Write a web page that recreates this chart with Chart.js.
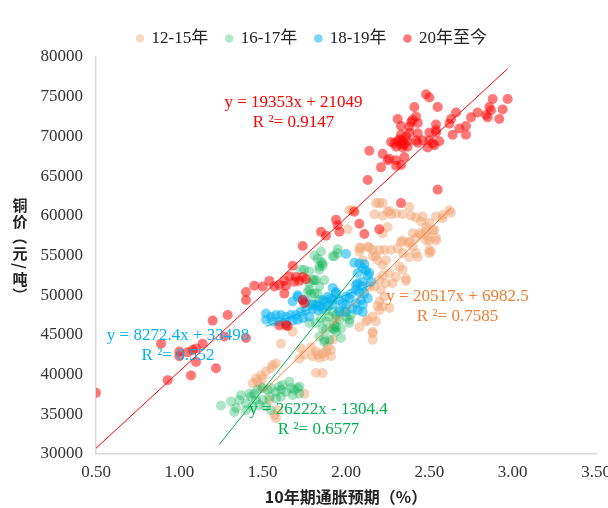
<!DOCTYPE html>
<html>
<head>
<meta charset="utf-8">
<script src="https://cdn.jsdelivr.net/npm/chart.js@4.4.0/dist/chart.umd.min.js"></script>
<style>
    html, body { margin: 0; padding: 0; background: #fff; }
</style>
</head>
<body>
<canvas id="chart" width="608" height="508"></canvas>
<script>
// ---- data ----
const seriesNames = ['12-15年', '16-17年', '18-19年', '20年至今'];

const x1215 = [2.20,2.22,2.17,2.22,2.25,2.27,2.30,2.34,2.38,2.39,2.42,2.45,2.48,2.50,2.54,2.58,2.62,2.53,2.49,2.54,
    2.48,2.45,2.42,2.40,2.38,2.34,2.51,2.50,2.43,2.38,2.34,2.31,2.27,2.23,2.20,2.16,2.13,2.09,2.08,2.10,
    2.16,2.19,2.24,2.22,2.32,2.34,2.36,2.30,2.26,2.22,2.20,2.24,2.28,2.21,2.23,2.20,2.19,2.22,2.16,2.12,
    2.14,2.17,2.16,2.16,1.91,2.26,2.36,2.20,2.08,2.18,2.02,2.26,2.46,2.58,2.63,2.25,2.01,2.22,2.44,2.48,
    2.52,2.54,2.50,2.33,2.37,2.08,2.14,2.18,2.40,2.42,2.50,2.04,1.61,1.73,1.75,1.79,1.82,1.83,1.84,1.86,
    1.89,1.88,1.87,1.91,1.82,1.86,1.58,1.55,1.52,1.49,1.46,1.44,1.47,1.50,1.75,1.58,1.54,1.49,1.56,1.72,
    1.80,1.92,1.94,1.57,1.59,2.13,2.18,2.16,1.68];
const y1215 = [61600,61600,60200,60000,60500,60200,60300,60200,61100,60000,59800,59300,58600,59100,59900,60100,60700,58200,57400,56900,
    56900,57600,57200,57800,56700,56900,55500,55300,54800,54800,55300,55900,55700,55700,55700,55700,56100,55900,55500,54400,
    54900,54400,54400,53800,53600,53200,52100,52300,52800,52500,51900,51500,51500,50700,49800,49200,48600,48600,47300,46700,
    51100,51100,44400,45200,42300,48400,51800,48100,46000,61600,60700,60600,59900,59700,60400,58600,58300,57800,57800,58000,
    58200,57200,56900,56700,56600,56000,56000,54900,56100,55300,55700,60700,43900,43300,42500,43400,42900,42500,42100,42700,
    43500,42900,42300,43100,40200,40200,41400,40800,40400,39900,39500,38900,39100,39500,37600,34500,36800,38500,41200,42000,
    42300,44400,46900,34900,35500,46900,46700,45400,45400];

const x1617 = [1.95,1.93,1.85,1.83,1.85,1.84,1.86,1.80,1.82,1.87,1.84,1.78,1.81,1.75,1.78,1.73,1.92,1.95,1.84,1.86,
    1.78,1.79,1.83,1.80,1.84,1.88,1.92,1.96,1.94,1.90,1.96,2.00,1.85,1.88,1.82,1.86,1.92,1.97,1.94,1.81,
    1.81,1.77,1.78,1.93,1.84,1.87,1.34,1.36,1.31,1.25,1.40,1.42,1.45,1.47,1.50,1.53,1.55,1.58,1.61,1.62,
    1.66,1.67,1.64,1.69,1.71,1.72,1.68,1.61,1.58,1.54,1.50,1.48,1.44,1.46,1.33,1.40,1.52,1.55,1.37,1.43,
    1.88,1.87,2.02,1.93,1.97,1.60,1.72,1.94,2.02,2.03,1.99,1.90];
const y1617 = [55800,54900,55500,54600,54200,53200,54000,51900,51900,51900,51100,50700,50200,53200,53000,53200,54900,55300,53600,53700,
    51500,50200,50200,49000,49400,48100,47900,48100,47500,47300,46900,47300,47100,46700,46500,45800,45800,45800,45400,55000,
    51900,50400,46500,45700,44800,44400,35800,36800,36600,36100,36400,37600,37600,38100,38300,38100,38300,37800,38100,38700,
    39100,38300,37800,38100,38300,37600,37400,37200,37000,37200,36800,36200,36000,36800,35300,35500,36000,35500,37400,37200,
    45600,44100,46500,46200,44600,38500,38500,46000,46900,47500,47900,44400];

const x1819 = [2.00,2.05,2.08,2.11,2.10,2.12,2.14,2.07,1.68,1.71,1.82,1.86,1.89,1.92,1.96,2.00,2.03,2.06,2.07,2.10,
    2.11,2.09,2.06,2.07,2.04,2.00,1.52,1.52,1.55,1.58,1.61,1.64,1.67,1.70,1.73,1.76,1.80,1.83,1.86,1.89,
    1.92,1.56,1.60,1.64,1.68,1.71,1.74,1.78,1.71,1.76,1.80,1.84,1.87,1.91,1.94,2.13,2.15,2.10,2.06,2.08,
    2.13,2.10,2.02,1.98,1.94,1.96,2.00,2.10,1.92,1.74];
const y1819 = [55200,54100,54000,53900,53400,53100,52800,52800,49200,49800,48800,49400,49800,49400,49400,49800,50200,50700,51500,51100,
    50200,49400,49000,48100,48300,48800,47700,46900,47300,47500,47500,47300,47500,47500,47900,48100,48300,48100,48300,48600,
    48800,46700,46700,46500,46800,46900,47100,47300,50000,49200,48800,48600,49200,49600,50400,52500,51700,51700,51300,50400,
    49600,48800,49600,49000,50200,47900,47900,47900,50900,49400];

const x20 = [2.48,2.50,2.41,2.55,2.88,2.97,2.86,2.87,2.94,2.84,2.85,2.92,2.79,2.75,2.66,2.63,2.62,2.72,2.68,2.72,
    2.64,2.31,2.42,2.39,2.40,2.43,2.33,2.38,2.54,2.54,2.54,2.50,2.43,2.38,2.36,2.33,2.32,2.34,2.37,2.31,
    2.29,2.27,2.33,2.35,2.42,2.43,2.46,2.50,2.52,2.56,2.49,2.53,2.34,2.30,2.37,2.14,2.22,2.25,2.26,2.30,
    2.35,2.21,2.30,2.33,2.13,2.55,2.33,2.05,1.94,1.96,1.95,2.08,2.11,2.20,1.85,1.88,1.74,1.68,1.45,1.50,
    1.54,1.57,1.60,1.63,1.64,1.66,1.69,1.70,1.72,1.74,1.76,1.63,1.74,1.75,1.60,1.64,0.50,0.93,1.07,1.22,
    1.10,1.00,1.05,1.08,1.14,0.89,1.40,1.29,1.20,1.40,1.40,1.27,1.10,1.00,1.65];
const y20 = [75300,74900,73700,73700,74700,74700,73700,73300,73400,72700,72400,72200,73000,72400,73000,72200,71600,71300,71000,70200,
    70200,72200,72500,71800,72100,71700,71300,71200,71500,70800,70500,70500,70400,70500,70000,70200,69600,69500,69400,69400,
    69100,69300,69000,69000,69500,69200,69500,69500,69100,69400,68600,68900,68600,68700,68700,68200,67800,67000,67200,67000,
    67400,66100,66300,66400,64500,63300,61600,60500,59500,58000,58800,59000,57700,58300,58000,57500,56200,53700,51200,51100,
    51800,51100,51300,51800,51200,52400,51700,52300,51800,52300,52000,50200,49400,49000,46200,46200,37700,39300,39900,40800,
    41600,42300,42800,43100,43900,43900,44600,47500,46800,49400,50400,44800,43300,42900,46100];

// trendlines: slope, intercept, x range
const trendSlope = [20517, 26222, 8272.4, 19353];
const trendIntercept = [6982.5, -1304.4, 33498, 21049];
const trendFrom = [1.50, 1.24, 1.52, 0.50];
const trendTo = [2.63, 2.07, 2.15, 2.97];
const trendText = [
    ['y = 20517x + 6982.5', 'R ²= 0.7585'],
    ['y = 26222x - 1304.4', 'R ²= 0.6577'],
    ['y = 8272.4x + 33498', 'R ²= 0.552'],
    ['y = 19353x + 21049', 'R ²= 0.9147']
];
// where each equation label is centred, in axis units
const labelX = [2.669, 1.835, 0.992, 1.685];
const labelY = [49773, 35541, 44861, 74205];

const xTicks = [0.5, 3.5, 0.5];      // min, max, step
const yTicks = [30000, 80000, 5000];

// ---- styles ----
const pointColors = ['rgba(241,166,116,0.5)', 'rgba(0,176,80,0.33)', 'rgba(0,176,240,0.55)', 'rgba(255,0,0,0.53)'];
const legendColors = ['rgba(244,177,131,0.5)', 'rgba(0,176,80,0.3)', 'rgba(0,176,240,0.53)', 'rgba(255,0,0,0.53)'];
const lineColors = ['#ED7D31', '#00B050', '#00B0F0', '#FF0000'];
const serif = "'Liberation Serif', 'Noto Sans CJK SC', serif";
const cjk = "'Noto Sans CJK SC', sans-serif";

function pts(xs, ys) {
    return xs.map((x, i) => ({ x: x, y: ys[i] }));
}

const allX = [x1215, x1617, x1819, x20];
const allY = [y1215, y1617, y1819, y20];

const datasets = [];
seriesNames.forEach((name, i) => {
    datasets.push({
        label: name,
        data: pts(allX[i], allY[i]),
        backgroundColor: pointColors[i],
        borderWidth: 0,
        pointRadius: 5,
        pointHoverRadius: 5,
        order: 4 - i + 1
    });
});
trendSlope.forEach((s, i) => {
    const b = trendIntercept[i];
    datasets.push({
        label: 'trend' + i,
        data: [{ x: trendFrom[i], y: s * trendFrom[i] + b }, { x: trendTo[i], y: s * trendTo[i] + b }],
        showLine: true,
        borderColor: lineColors[i],
        borderWidth: 1,
        pointRadius: 0,
        fill: false,
        order: 0
    });
});

// equation labels + stacked y title
const extras = {
    id: 'extras',
    afterDatasetsDraw(chart) {
        const { ctx, scales } = chart;
        ctx.save();
        ctx.font = '17px ' + serif;
        ctx.textAlign = 'center';
        ctx.textBaseline = 'middle';
        trendText.forEach((lines, i) => {
            const px = scales.x.getPixelForValue(labelX[i]);
            const py = scales.y.getPixelForValue(labelY[i]);
            ctx.fillStyle = lineColors[i];
            lines.forEach((t, k) => ctx.fillText(t, px, py + k * 19.5));
        });
        ctx.restore();
    },
    afterDraw(chart) {
        const ctx = chart.ctx;
        ctx.save();
        ctx.font = 'bold 15px ' + cjk;
        ctx.fillStyle = '#222';
        ctx.textAlign = 'center';
        ctx.textBaseline = 'middle';
        const chars = ['铜', '价', '（', '元', '/', '吨', '）'];
        let y = 205;
        const cx = 20;
        chars.forEach(c => {
            const h = c === '/' ? 10 : 16;
            ctx.save();
            ctx.translate(cx, y + h / 2 - 8);
            if (c === '（' || c === '）' || c === '/') ctx.rotate(Math.PI / 2);
            ctx.fillText(c, 0, 0);
            ctx.restore();
            y += h;
        });
        ctx.restore();
    }
};

new Chart(document.getElementById('chart'), {
    type: 'scatter',
    data: { datasets },
    options: {
        responsive: false,
        animation: false,
        layout: { padding: { top: -5, left: 28, right: 12, bottom: 0 } },
        plugins: {
            tooltip: { enabled: false },
            legend: {
                position: 'top',
                labels: {
                    filter: item => item.datasetIndex < 4,
                    sort: (a, b) => a.datasetIndex - b.datasetIndex,
                    generateLabels(chart) {
                        const items = Chart.defaults.plugins.legend.labels.generateLabels(chart);
                        items.forEach(it => {
                            if (it.datasetIndex < 4) it.fillStyle = legendColors[it.datasetIndex];
                        });
                        return items;
                    },
                    usePointStyle: true,
                    pointStyle: 'circle',
                    boxWidth: 6,
                    boxHeight: 6,
                    padding: 18,
                    color: '#222',
                    font: { size: 17, family: serif }
                }
            }
        },
        scales: {
            x: {
                type: 'linear',
                min: xTicks[0],
                max: xTicks[1],
                grid: { display: false, drawTicks: false },
                border: { display: true, color: '#d9d9d9', width: 1.5 },
                ticks: {
                    stepSize: xTicks[2],
                    padding: 8,
                    color: '#333',
                    font: { size: 17, family: serif },
                    callback: v => Number(v).toFixed(2)
                },
                title: {
                    display: true,
                    text: '10年期通胀预期（%）',
                    color: '#222',
                    font: { size: 16, weight: 'bold', family: cjk },
                    padding: { top: 0, bottom: 1 }
                },
                afterFit(scale) {
                    scale.height = 54;
                    scale.paddingRight = 12;
                }
            },
            y: {
                min: yTicks[0],
                max: yTicks[1],
                grid: { display: false, drawTicks: false },
                border: { display: true, color: '#d9d9d9', width: 1.5 },
                ticks: {
                    stepSize: yTicks[2],
                    padding: 13,
                    color: '#333',
                    font: { size: 17, family: serif },
                    callback: v => String(v)
                },
                afterFit(scale) {
                    scale.width = 68;
                    scale.paddingTop = 57;
                }
            }
        }
    },
    plugins: [extras]
});
</script>
</body>
</html>
